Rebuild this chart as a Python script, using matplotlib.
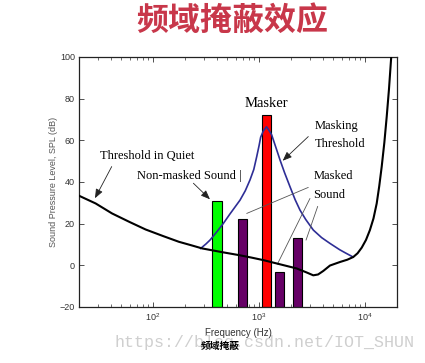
import numpy as np
import matplotlib
matplotlib.use("Agg")
import matplotlib.pyplot as plt
from matplotlib.ticker import LogLocator, NullFormatter

# values
# threshold in quiet (Hz, dB)
quiet_f = [20, 28.7, 41, 60, 85, 125, 175, 230, 291, 450, 646, 850, 1096,
           1692, 2262, 2800, 3245, 3600, 4033, 4665, 5800, 6800, 7740, 8500,
           9300, 10200, 11100, 12000, 12870, 13600, 14350, 15200, 16000,
           16800, 17570, 17900]
quiet_db = [33.4, 29.7, 24.9, 20.8, 17.2, 14.0, 11.3, 9.6, 8.1, 6.3, 4.9,
            3.7, 2.5, 0.1, -1.5, -3.4, -4.8, -4.4, -2.7, -0.1, 1.6, 2.7, 4.0,
            5.8, 8.5, 12.2, 16.9, 22.5, 29.7, 38.0, 47.4, 59.0, 71.4, 84.5,
            98.7, 104]

# masking threshold around the masker
mask_f = [281, 316, 344, 398, 460, 525, 589, 661, 741, 821, 891, 950, 1000,
          1035, 1096, 1175, 1250, 1315, 1466, 1575, 1738, 1958, 2188, 2432,
          2754, 3250, 3890, 4670, 5754, 6500, 7700]
mask_db = [8.1, 10.3, 12.1, 16.0, 20.1, 24.3, 27.8, 31.3, 35.8, 41.0, 46.0,
           52.2, 57.5, 61.5, 64.5, 66.5, 64.5, 62.6, 55.4, 50.6, 44.5, 37.7,
           31.5, 26.5, 22.0, 16.9, 13.3, 10.5, 7.5, 6.0, 4.0]

# tones
bar_f = [400, 700, 1180, 1565, 2300]
bar_db = [31, 22, 72, -3, 13]
bar_colors = ['#00FF00', '#660066', '#FF0000', '#660066', '#660066']

y_ticks = [-20, 0, 20, 40, 60, 80, 100]
x_ticks = [100, 1000, 10000]

fig = plt.figure(figsize=(4.25, 3.63), dpi=100)
ax = fig.add_axes([0.1859, 0.1543, 0.7482, 0.6887])
ax.set_xscale('log')
ax.set_xlim(20, 20000)
ax.set_ylim(-20, 100)

# bars: fixed width in log space
half = 10 ** 0.045
left = [f / half for f in bar_f]
widths = [f * half - f / half for f in bar_f]
heights = [d + 20 for d in bar_db]
ax.bar(left, heights, width=widths, bottom=-20, align='edge',
       color=bar_colors, edgecolor='black', linewidth=0.8, zorder=2)

ax.plot(mask_f, mask_db, color='#2E2E96', lw=1.2, zorder=3)
ax.plot(quiet_f, quiet_db, color='black', lw=1.5, zorder=4)

# ticks, MATLAB style
ax.set_yticks(y_ticks)
ax.set_xticks(x_ticks)
ax.xaxis.set_minor_locator(LogLocator(base=10, subs=np.arange(2, 10)))
ax.xaxis.set_minor_formatter(NullFormatter())
ax.tick_params(which='both', direction='in', top=True, right=True,
               labelsize=6.5, labelcolor='#333333', color='#333333')
ax.tick_params(which='major', length=3.5, width=0.6, pad=3)
ax.tick_params(which='minor', length=2, width=0.5)
for s in ax.spines.values():
    s.set_color('#222222')
    s.set_linewidth(0.9)
for lab in ax.get_xticklabels() + ax.get_yticklabels():
    lab.set_family('Liberation Sans')

ax.set_xlabel('Frequency (Hz)', fontsize=7, color='#333333',
              family='Liberation Sans', labelpad=4)
ax.set_ylabel('Sound Pressure Level, SPL (dB)', fontsize=6.5,
              color='#555555', family='Liberation Sans', labelpad=1)

serif = 'Liberation Serif'
arrow = dict(arrowstyle='-|>,head_length=0.55,head_width=0.22',
             color='#222222', lw=0.6, shrinkA=0, shrinkB=0)
plain = dict(arrowstyle='-', color='#555555', lw=0.6, shrinkA=0, shrinkB=0)

ax.text(31.5, 52.5, 'Threshold in Quiet', family=serif, fontsize=9,
        va='center', ha='left')
ax.annotate('', xy=(28.3, 32.2), xytext=(40.7, 47.4), arrowprops=arrow)

ax.text(71, 42.9, 'Non-masked Sound', family=serif, fontsize=9,
        va='center', ha='left')
ax.text(640, 42.9, '|', family=serif, fontsize=9, va='center', ha='left')
ax.annotate('', xy=(344, 31.7), xytext=(240, 39.4), arrowprops=arrow)

ax.text(1180, 77.5, 'Masker', family=serif, fontsize=10.5,
        va='center', ha='center')

ax.text(3370, 66.9, 'Masking', family=serif, fontsize=9,
        va='center', ha='left')
ax.text(3370, 58.3, 'Threshold', family=serif, fontsize=9,
        va='center', ha='left')
ax.annotate('', xy=(1670, 50.2), xytext=(2912, 61.8), arrowprops=arrow)

ax.text(3250, 43, 'Masked', family=serif, fontsize=9,
        va='center', ha='left')
ax.text(3250, 33.7, 'Sound', family=serif, fontsize=9,
        va='center', ha='left')
ax.annotate('', xy=(764, 24.9), xytext=(2912, 37.4), arrowprops=plain)
ax.annotate('', xy=(1486, 0.5), xytext=(3020, 32.1), arrowprops=plain)
ax.annotate('', xy=(2772, 12.1), xytext=(3573, 28.3), arrowprops=plain)

# slide title and page text
fig.text(232 / 425, 1 - 21 / 363, '频域掩蔽效应', ha='center', va='center',
         fontsize=23, weight='bold', color='#C8374A',
         family=['Noto Sans CJK SC', 'DejaVu Sans'])
fig.text(115 / 425, 1 - 343 / 363, 'https://blog.csdn.net/IOT_SHUN',
         ha='left', va='center', fontsize=12, color='#CFCFCF',
         family='Liberation Mono')
fig.text(220 / 425, 1 - 346 / 363, '频域掩蔽', ha='center', va='center',
         fontsize=7, weight='bold', color='black',
         family=['Noto Sans CJK SC', 'DejaVu Sans'])

fig.savefig('out.png', dpi=100)
